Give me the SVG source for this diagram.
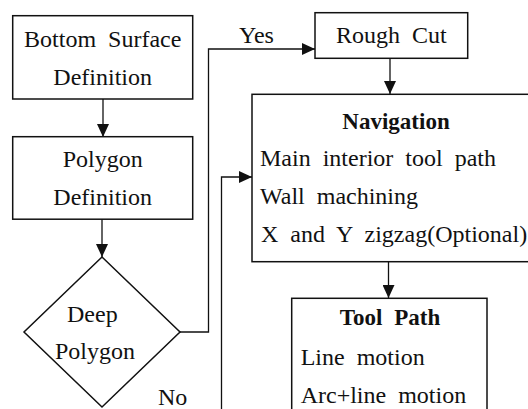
<svg xmlns="http://www.w3.org/2000/svg" width="528" height="409" viewBox="0 0 528 409">
<style>
.box{fill:#fff;stroke:#111;stroke-width:1.5}
.ln{fill:none;stroke:#111;stroke-width:1.3}
.t{font-family:'Liberation Serif','Times New Roman',Times,'DejaVu Serif',serif;font-size:24px;fill:#111;word-spacing:6px}
.b{font-weight:bold;font-size:23px}
.c{text-anchor:middle}
</style>
<defs>
<marker id="ah" markerUnits="userSpaceOnUse" markerWidth="14" markerHeight="12" refX="13" refY="6" orient="auto">
<polygon points="0,0 13,6 0,12" fill="#111"/>
</marker>
</defs>
<rect width="528" height="409" fill="#fff"/>
<g id="connectors">
<line class="ln" x1="103" y1="99" x2="103" y2="137" marker-end="url(#ah)"/>
<line class="ln" x1="102" y1="219" x2="102" y2="257" marker-end="url(#ah)"/>
<polyline class="ln" points="180,332 208.5,332 208.5,49 315,49" marker-end="url(#ah)"/>
<line class="ln" x1="390" y1="58" x2="390" y2="94" marker-end="url(#ah)"/>
<polyline class="ln" points="221.5,409 221.5,177 252,177" marker-end="url(#ah)"/>
<line class="ln" x1="388.5" y1="262" x2="388.5" y2="298" marker-end="url(#ah)"/>
</g>
<g id="bottom-surface" class="t" font-family="Liberation Serif, serif">
<rect class="box" x="12.7" y="15.7" width="180" height="83.3"/>
<text class="c" x="102.7" y="47">Bottom Surface</text>
<text class="c" x="102.7" y="85">Definition</text>
</g>
<g id="polygon-def" class="t" font-family="Liberation Serif, serif">
<rect class="box" x="12.7" y="136.7" width="180" height="82.5"/>
<text class="c" x="102.7" y="167">Polygon</text>
<text class="c" x="102.7" y="205">Definition</text>
</g>
<g id="deep-polygon" class="t" font-family="Liberation Serif, serif">
<polygon class="box" points="102,257 180,332 102,407 24,332"/>
<text x="67" y="322">Deep</text>
<text x="55" y="359">Polygon</text>
</g>
<g id="labels" class="t" font-family="Liberation Serif, serif">
<text x="239" y="43">Yes</text>
<text x="158" y="405">No</text>
</g>
<g id="rough-cut" class="t" font-family="Liberation Serif, serif">
<rect class="box" x="315" y="12.7" width="152.7" height="45.6"/>
<text class="c" x="391.3" y="43.3">Rough Cut</text>
</g>
<g id="navigation" class="t" font-family="Liberation Serif, serif">
<rect class="box" x="252" y="94.3" width="290" height="167.4"/>
<text class="b c" x="396" y="128.5">Navigation</text>
<text x="260" y="166">Main interior tool path</text>
<text x="260" y="204">Wall machining</text>
<text x="261" y="242">X and Y zigzag(Optional)</text>
</g>
<g id="tool-path" class="t" font-family="Liberation Serif, serif">
<rect class="box" x="291.7" y="298.3" width="195.3" height="130"/>
<text class="b c" x="390" y="325">Tool Path</text>
<text x="300.7" y="365">Line motion</text>
<text x="300.7" y="403">Arc+line motion</text>
</g>
</svg>
